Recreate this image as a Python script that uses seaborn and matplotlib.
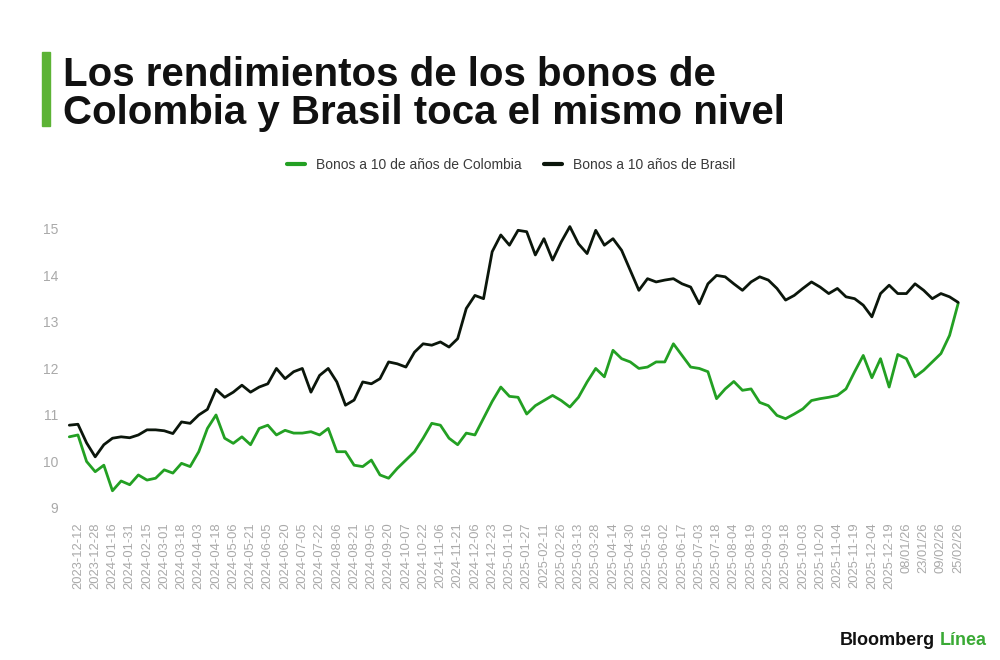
import numpy as np
import pandas as pd
import matplotlib
matplotlib.use('Agg')
import matplotlib.pyplot as plt
import seaborn as sns

# fechas de los puntos leidos (cada etiqueta del eje y un punto intermedio)
fechas = ['2023-12-04', '2023-12-12', '2023-12-20', '2023-12-28', '2024-01-08', '2024-01-16',
          '2024-01-23', '2024-01-31', '2024-02-07', '2024-02-15', '2024-02-23', '2024-03-01',
          '2024-03-08', '2024-03-18', '2024-03-26', '2024-04-03', '2024-04-10', '2024-04-18',
          '2024-04-26', '2024-05-06', '2024-05-13', '2024-05-21', '2024-05-28', '2024-06-05',
          '2024-06-12', '2024-06-20', '2024-06-27', '2024-07-05', '2024-07-12', '2024-07-22',
          '2024-07-29', '2024-08-06', '2024-08-13', '2024-08-21', '2024-08-28', '2024-09-05',
          '2024-09-12', '2024-09-20', '2024-09-27', '2024-10-07', '2024-10-14', '2024-10-22',
          '2024-10-29', '2024-11-06', '2024-11-13', '2024-11-21', '2024-11-28', '2024-12-06',
          '2024-12-13', '2024-12-23', '2025-01-02', '2025-01-10', '2025-01-17', '2025-01-27',
          '2025-02-03', '2025-02-11', '2025-02-18', '2025-02-26', '2025-03-05', '2025-03-13',
          '2025-03-20', '2025-03-28', '2025-04-04', '2025-04-14', '2025-04-22', '2025-04-30',
          '2025-05-08', '2025-05-16', '2025-05-23', '2025-06-02', '2025-06-09', '2025-06-17',
          '2025-06-25', '2025-07-03', '2025-07-10', '2025-07-18', '2025-07-25', '2025-08-04',
          '2025-08-11', '2025-08-19', '2025-08-26', '2025-09-03', '2025-09-10', '2025-09-18',
          '2025-09-25', '2025-10-03', '2025-10-10', '2025-10-20', '2025-10-27', '2025-11-04',
          '2025-11-11', '2025-11-19', '2025-11-26', '2025-12-04', '2025-12-11', '2025-12-19',
          '30/12/25', '08/01/26', '15/01/26', '23/01/26', '30/01/26', '09/02/26',
          '17/02/26', '25/02/26']

etiquetas = ['2023-12-12', '2023-12-28', '2024-01-16', '2024-01-31', '2024-02-15', '2024-03-01',
             '2024-03-18', '2024-04-03', '2024-04-18', '2024-05-06', '2024-05-21', '2024-06-05',
             '2024-06-20', '2024-07-05', '2024-07-22', '2024-08-06', '2024-08-21', '2024-09-05',
             '2024-09-20', '2024-10-07', '2024-10-22', '2024-11-06', '2024-11-21', '2024-12-06',
             '2024-12-23', '2025-01-10', '2025-01-27', '2025-02-11', '2025-02-26', '2025-03-13',
             '2025-03-28', '2025-04-14', '2025-04-30', '2025-05-16', '2025-06-02', '2025-06-17',
             '2025-07-03', '2025-07-18', '2025-08-04', '2025-08-19', '2025-09-03', '2025-09-18',
             '2025-10-03', '2025-10-20', '2025-11-04', '2025-11-19', '2025-12-04', '2025-12-19',
             '08/01/26', '23/01/26', '09/02/26', '25/02/26']

colombia = [10.53, 10.57, 10.00, 9.78, 9.92, 9.37, 9.58, 9.50, 9.71, 9.60, 9.64, 9.82, 9.75,
            9.96, 9.89, 10.21, 10.71, 11.00, 10.50, 10.39, 10.53, 10.36, 10.71, 10.78, 10.57, 10.67,
            10.61, 10.61, 10.64, 10.57, 10.71, 10.21, 10.21, 9.92, 9.89, 10.03, 9.71, 9.64, 9.85,
            10.03, 10.21, 10.50, 10.82, 10.78, 10.50, 10.36, 10.61, 10.57, 10.93, 11.29, 11.60, 11.40,
            11.38, 11.02, 11.20, 11.31, 11.42, 11.31, 11.17, 11.38, 11.71, 12.00, 11.82, 12.39, 12.21,
            12.14, 12.00, 12.03, 12.14, 12.14, 12.53, 12.28, 12.03, 12.00, 11.93, 11.35, 11.56, 11.72,
            11.53, 11.56, 11.27, 11.20, 10.99, 10.92, 11.02, 11.13, 11.31, 11.35, 11.38, 11.42, 11.56,
            11.93, 12.28, 11.80, 12.21, 11.60, 12.30, 12.21, 11.82, 11.96, 12.14, 12.32, 12.71, 13.40]

brasil = [10.78, 10.80, 10.40, 10.10, 10.36, 10.50, 10.53, 10.51, 10.57, 10.68, 10.68, 10.66, 10.60,
          10.85, 10.82, 11.00, 11.12, 11.55, 11.38, 11.49, 11.64, 11.49, 11.60, 11.67, 12.00, 11.78,
          11.93, 12.00, 11.49, 11.85, 12.00, 11.71, 11.21, 11.32, 11.71, 11.67, 11.78, 12.14, 12.10,
          12.03, 12.35, 12.53, 12.50, 12.57, 12.46, 12.64, 13.29, 13.57, 13.50, 14.51, 14.87, 14.65,
          14.97, 14.94, 14.44, 14.79, 14.33, 14.72, 15.05, 14.68, 14.47, 14.97, 14.65, 14.79, 14.54,
          14.11, 13.68, 13.93, 13.86, 13.90, 13.93, 13.82, 13.75, 13.39, 13.82, 14.00, 13.97, 13.82,
          13.68, 13.86, 13.97, 13.90, 13.72, 13.47, 13.57, 13.72, 13.86, 13.75, 13.61, 13.72, 13.54,
          13.50, 13.36, 13.11, 13.61, 13.79, 13.61, 13.61, 13.82, 13.68, 13.50, 13.61, 13.54, 13.42]

serie_col = 'Bonos a 10 de años de Colombia'
serie_bra = 'Bonos a 10 años de Brasil'

verde = '#23a023'
negro = '#0b160b'
gris = '#a9a9a9'

sns.set_style('white')
plt.rcParams['font.family'] = ['Liberation Sans', 'DejaVu Sans']

df = pd.DataFrame({
    'fecha': fechas + fechas,
    'rendimiento': colombia + brasil,
    'serie': [serie_col] * len(fechas) + [serie_bra] * len(fechas),
})

fig = plt.figure(figsize=(10, 6.6), dpi=100)
ax = fig.add_axes([0.065, 0.2273, 0.8975, 0.447])
sns.lineplot(data=df, x='fecha', y='rendimiento', hue='serie', hue_order=[serie_col, serie_bra],
             palette=[verde, negro], sort=False, linewidth=2.0, ax=ax)

ax.set_xlim(-0.5, len(fechas) - 0.5)
ax.set_ylim(8.957, 15.3)
ax.set_yticks([9, 10, 11, 12, 13, 14, 15])
ax.set_xticks([fechas.index(e) for e in etiquetas])
ax.set_xticklabels(etiquetas, rotation=90)
ax.set_xlabel('')
ax.set_ylabel('')
sns.despine(ax=ax, left=True, bottom=True)
ax.tick_params(axis='x', length=0, pad=9, labelsize=9.3, labelcolor=gris)
ax.tick_params(axis='y', length=0, pad=5, labelsize=10, labelcolor=gris)

# leyenda arriba al centro
handles, labels = ax.get_legend_handles_labels()
ax.legend(handles, labels, loc='center', bbox_to_anchor=(0.511, 1 - 165 / 660),
          bbox_transform=fig.transFigure, ncol=2, frameon=False, handlelength=1.3,
          handletextpad=0.8, columnspacing=1.6, fontsize=10, labelcolor='#3a3a3a')
for h in ax.get_legend().get_lines():
    h.set_linewidth(3)

# titulo con barra verde
fig.patches.append(plt.Rectangle((0.042, 1 - 126 / 660), 0.008, 74 / 660,
                                 transform=fig.transFigure, color='#5cb335'))
fig.text(0.063, 1 - 86 / 660, 'Los rendimientos de los bonos de',
         fontsize=29, fontweight='bold', color='#111111', va='baseline')
fig.text(0.063, 1 - 124 / 660, 'Colombia y Brasil toca el mismo nivel',
         fontsize=29, fontweight='bold', color='#111111', va='baseline')

# logo
t1 = fig.text(0.987, 1 - 645 / 660, 'Línea', fontsize=13, fontweight='bold',
              color='#3aaa35', ha='right', va='baseline')
fig.canvas.draw()
bb = t1.get_window_extent()
fig.text(bb.x0 / 1000 - 0.005, 1 - 645 / 660, 'Bloomberg', fontsize=13, fontweight='bold',
         color='#111111', ha='right', va='baseline')

fig.savefig('out.png', dpi=100)
